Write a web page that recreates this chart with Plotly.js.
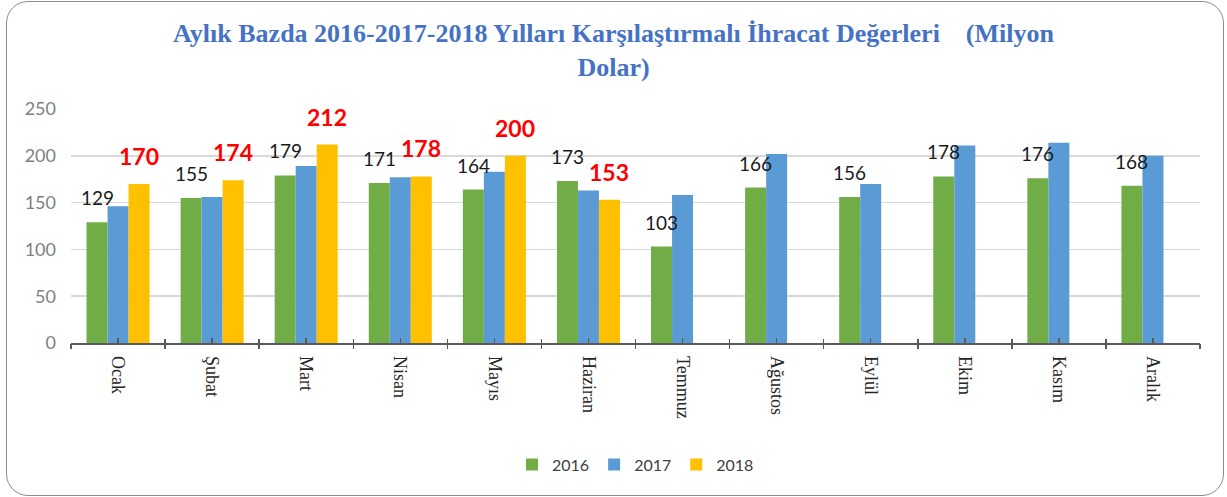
<!DOCTYPE html>
<html>
<head>
<meta charset="utf-8">
<script src="https://cdn.plot.ly/plotly-3.0.1.min.js"></script>
<style>
  html, body { margin: 0; padding: 0; background: #ffffff; overflow: hidden; }
  #frame { position: absolute; left: 6px; top: 1px; width: 1216px; height: 493px;
           border: 1.5px solid #8c8c8c; border-radius: 22px; box-sizing: content-box; }
  #chart { position: absolute; left: 0; top: 0; width: 1227px; height: 497px; }
</style>
</head>
<body>
<div id="frame"></div>
<div id="chart"></div>
<script>
const months = ['Ocak', 'Şubat', 'Mart', 'Nisan', 'Mayıs', 'Haziran', 'Temmuz', 'Ağustos', 'Eylül', 'Ekim', 'Kasım', 'Aralık'];
const values2016 = [129, 155, 179, 171, 164, 173, 103, 166, 156, 178, 176, 168];
const values2017 = [146, 156, 189, 177, 183, 163, 158, 202, 170, 211, 214, 200];
const values2018 = [170, 174, 212, 178, 200, 153, null, null, null, null, null, null];
const seriesNames = ['2016', '2017', '2018'];
const yTicks = [0, 50, 100, 150, 200, 250];

const colors = ['#70AD47', '#5B9BD5', '#FFC000'];

const traces = [values2016, values2017, values2018].map((vals, i) => ({
  type: 'bar',
  name: seriesNames[i],
  x: months,
  y: vals,
  marker: { color: colors[i], line: { width: 0 } },
  hoverinfo: 'x+y+name'
}));

// empty helper traces so the overlay tick axes (category boundaries) get drawn
['x2', 'x3'].forEach(ax => {
  traces.push({
    type: 'scatter', mode: 'markers', x: [0], y: [null], xaxis: ax, yaxis: 'y',
    showlegend: false, hoverinfo: 'skip', marker: { opacity: 0 }
  });
});

const annotations = [];
months.forEach((m, i) => {
  if (values2016[i] != null) {
    annotations.push({
      x: m, y: values2016[i], xref: 'x', yref: 'y',
      text: String(values2016[i]), showarrow: false,
      xshift: -21, yshift: 11, yanchor: 'bottom', xanchor: 'center',
      font: { family: 'Lato, sans-serif', size: 19, color: '#1a1a1a' }
    });
  }
  if (values2018[i] != null) {
    annotations.push({
      x: m, y: values2018[i], xref: 'x', yref: 'y',
      text: '<b>' + values2018[i] + '</b>', showarrow: false,
      xshift: 21, yshift: 12, yanchor: 'bottom', xanchor: 'center',
      font: { family: 'Lato, sans-serif', size: 23, color: '#FF0000' }
    });
  }
});

const tickAxisBase = {
  overlaying: 'x', anchor: 'y', type: 'linear',
  range: [-0.5, months.length - 0.5], tick0: -0.5, dtick: 1,
  showticklabels: false, showgrid: false, zeroline: false, showline: false,
  tickcolor: '#595959', tickwidth: 1.5, fixedrange: true
};

const layout = {
  width: 1227, height: 497,
  paper_bgcolor: 'rgba(0,0,0,0)', plot_bgcolor: 'rgba(0,0,0,0)',
  margin: { l: 71, r: 27, t: 109, b: 154 },
  title: {
    text: 'Aylık Bazda 2016-2017-2018 Yılları Karşılaştırmalı İhracat Değerleri\u00a0\u00a0\u00a0\u00a0(Milyon<br>Dolar)',
    x: 0.5, xanchor: 'center', y: 0.915, yanchor: 'top',
    font: { family: '"Liberation Serif", serif', size: 26, color: '#4472C4', weight: 'bold' }
  },
  barmode: 'group', bargap: 0.33, bargroupgap: 0,
  showlegend: true,
  legend: {
    orientation: 'h', x: 0.5, xanchor: 'center', y: -0.52, yanchor: 'middle',
    font: { family: 'Lato, sans-serif', size: 16, color: '#404040' },
    bgcolor: 'rgba(0,0,0,0)', itemwidth: 30, traceorder: 'normal'
  },
  xaxis: {
    type: 'category', categoryarray: months, categoryorder: 'array',
    tickangle: 90, ticks: 'inside', ticklen: 5, tickcolor: '#595959', tickwidth: 1.5,
    showline: true, linecolor: '#595959', linewidth: 1.5,
    showgrid: false, zeroline: false, ticklabelstandoff: 8,
    tickfont: { family: '"Liberation Serif", serif', size: 18, color: '#262626' },
    fixedrange: true
  },
  xaxis2: Object.assign({}, tickAxisBase, { ticks: 'outside', ticklen: 5 }),
  xaxis3: Object.assign({}, tickAxisBase, { ticks: 'inside', ticklen: 4 }),
  yaxis: {
    range: [0, 250], tickvals: yTicks, ticks: '', showline: false,
    showgrid: true, gridcolor: '#D9D9D9', gridwidth: 1.5, zeroline: false,
    ticklabelstandoff: 14,
    tickfont: { family: 'Lato, sans-serif', size: 18, color: '#7F7F7F' },
    fixedrange: true
  },
  annotations: annotations
};

Plotly.newPlot('chart', traces, layout, { displayModeBar: false, staticPlot: true });
</script>
</body>
</html>
